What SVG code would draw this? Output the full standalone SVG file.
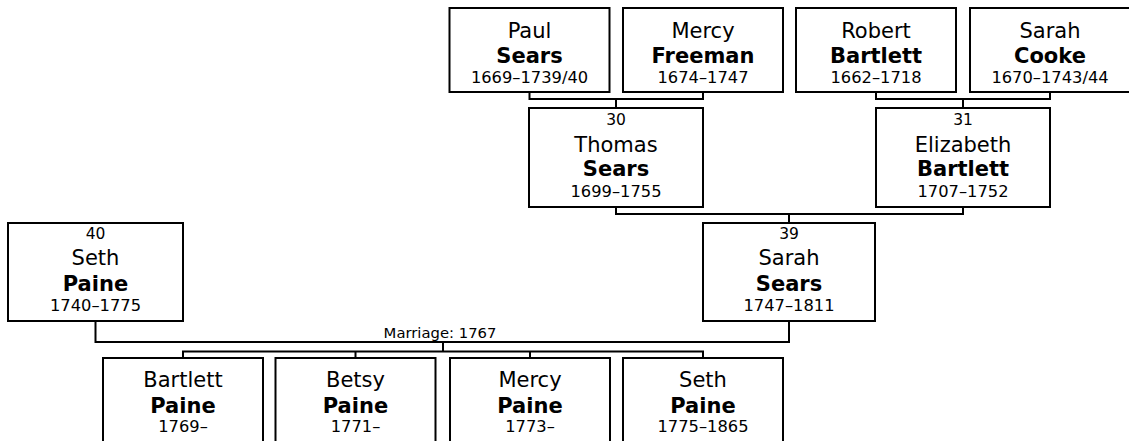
<svg xmlns="http://www.w3.org/2000/svg" width="1129" height="441" viewBox="0 0 1129 441">
<style>
rect.box{fill:#fff;stroke:#000;stroke-width:2}
text{font-family:"DejaVu Sans","Liberation Sans",sans-serif;text-anchor:middle;fill:#000}
.n{font-size:21px}
.s{font-size:21px;font-weight:bold}
.d{font-size:16.3px}
.k{font-size:15.5px}
.m{font-size:14.8px}
#connectors path{fill:none;stroke:#000;stroke-width:2}
</style>
<rect width="1129" height="441" fill="#fff"/>
<g id="connectors">
<path d="M529.5,92 V99 H703 V92 M616,99 V108"/>
<path d="M876,92 V99 H1050 V92 M963,99 V108"/>
<path d="M616,207 V214 H963 V207 M789,214 V223"/>
<path d="M95.5,321 V342 H789 V321 M443,342 V351.5 M183,358 V351.5 H703 V358 M355.5,351.5 V358 M530,351.5 V358"/>
<text class="m" x="440" y="338">Marriage: 1767</text>
</g>
<g id="paul-sears"><rect class="box" x="449.5" y="8" width="160" height="84"/><text class="n" x="529.5" y="38">Paul</text><text class="s" x="529.5" y="63">Sears</text><text class="d" x="529.5" y="83">1669–1739/40</text></g>
<g id="mercy-freeman"><rect class="box" x="623" y="8" width="160" height="84"/><text class="n" x="703" y="38">Mercy</text><text class="s" x="703" y="63">Freeman</text><text class="d" x="703" y="83">1674–1747</text></g>
<g id="robert-bartlett"><rect class="box" x="796" y="8" width="160" height="84"/><text class="n" x="876" y="38">Robert</text><text class="s" x="876" y="63">Bartlett</text><text class="d" x="876" y="83">1662–1718</text></g>
<g id="sarah-cooke"><rect class="box" x="970" y="8" width="160" height="84"/><text class="n" x="1050" y="38">Sarah</text><text class="s" x="1050" y="63">Cooke</text><text class="d" x="1050" y="83">1670–1743/44</text></g>
<g id="thomas-sears"><rect class="box" x="529" y="108" width="174" height="99"/><text class="k" x="616" y="125">30</text><text class="n" x="616" y="152">Thomas</text><text class="s" x="616" y="176">Sears</text><text class="d" x="616" y="197">1699–1755</text></g>
<g id="elizabeth-bartlett"><rect class="box" x="876" y="108" width="174" height="99"/><text class="k" x="963" y="125">31</text><text class="n" x="963" y="152">Elizabeth</text><text class="s" x="963" y="176">Bartlett</text><text class="d" x="963" y="197">1707–1752</text></g>
<g id="seth-paine-father"><rect class="box" x="8" y="223" width="175" height="98"/><text class="k" x="95.5" y="239">40</text><text class="n" x="95.5" y="265">Seth</text><text class="s" x="95.5" y="291">Paine</text><text class="d" x="95.5" y="311">1740–1775</text></g>
<g id="sarah-sears"><rect class="box" x="703" y="223" width="172" height="98"/><text class="k" x="789" y="239">39</text><text class="n" x="789" y="265">Sarah</text><text class="s" x="789" y="291">Sears</text><text class="d" x="789" y="311">1747–1811</text></g>
<g id="bartlett-paine"><rect class="box" x="103" y="358" width="160" height="100"/><text class="n" x="183" y="387">Bartlett</text><text class="s" x="183" y="413">Paine</text><text class="d" x="183" y="432">1769–</text></g>
<g id="betsy-paine"><rect class="box" x="275.5" y="358" width="160" height="100"/><text class="n" x="355.5" y="387">Betsy</text><text class="s" x="355.5" y="413">Paine</text><text class="d" x="355.5" y="432">1771–</text></g>
<g id="mercy-paine"><rect class="box" x="450" y="358" width="160" height="100"/><text class="n" x="530" y="387">Mercy</text><text class="s" x="530" y="413">Paine</text><text class="d" x="530" y="432">1773–</text></g>
<g id="seth-paine-son"><rect class="box" x="623" y="358" width="160" height="100"/><text class="n" x="703" y="387">Seth</text><text class="s" x="703" y="413">Paine</text><text class="d" x="703" y="432">1775–1865</text></g>
</svg>
